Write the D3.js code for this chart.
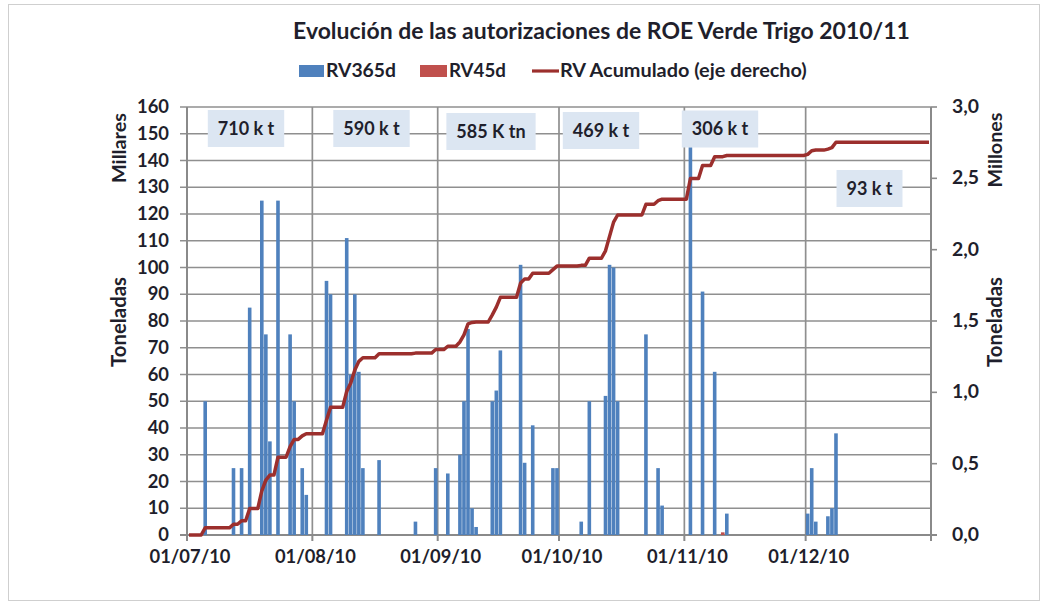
<!DOCTYPE html>
<html><head><meta charset="utf-8">
<script src="https://cdn.jsdelivr.net/npm/d3@7"></script>
<style>
body{margin:0;background:#fff}
svg{display:block}
text{font-family:Lato,"Open Sans",sans-serif;font-weight:700;fill:#1f1f2c}
</style>
</head><body>
<svg id="chart" width="1047" height="605"></svg>
<script>
// ---------- DATA ----------
const chartTitle = "Evolución de las autorizaciones de ROE Verde Trigo 2010/11";
const legendNames = ["RV365d", "RV45d", "RV Acumulado (eje derecho)"];

// Daily authorisations RV365d (toneladas, shown in thousands)
const rv365Dates = [
  "2010-07-05","2010-07-12","2010-07-14","2010-07-16","2010-07-19","2010-07-20","2010-07-21",
  "2010-07-23","2010-07-26","2010-07-27","2010-07-29","2010-07-30",
  "2010-08-04","2010-08-05","2010-08-09","2010-08-10","2010-08-11","2010-08-12","2010-08-13",
  "2010-08-17","2010-08-26","2010-08-31",
  "2010-09-03","2010-09-06","2010-09-07","2010-09-08","2010-09-09","2010-09-10","2010-09-14",
  "2010-09-15","2010-09-16","2010-09-21","2010-09-22","2010-09-24","2010-09-29","2010-09-30",
  "2010-10-06","2010-10-08","2010-10-12","2010-10-13","2010-10-14","2010-10-15","2010-10-22",
  "2010-10-25","2010-10-26",
  "2010-11-02","2010-11-05","2010-11-08","2010-11-11",
  "2010-12-01","2010-12-02","2010-12-03","2010-12-06","2010-12-07","2010-12-08"
];
const rv365Values = [
  50,25,25,85,125,75,35,
  125,75,50,25,15,
  95,90,111,60,90,61,25,
  28,5,25,
  23,30,50,77,10,3,50,
  54,69,101,27,41,25,25,
  5,50,52,101,100,50,75,
  25,11,
  145,91,61,8,
  8,25,5,7,10,38
];
// RV45d
const rv45Dates = ["2010-11-10"];
const rv45Values = [1];

// Axis ticks
const leftTickValues = [0,10,20,30,40,50,60,70,80,90,100,110,120,130,140,150,160];
const rightTickValues = [0,0.5,1.0,1.5,2.0,2.5,3.0];
const monthTicks = ["2010-07-01","2010-08-01","2010-09-01","2010-10-01","2010-11-01","2010-12-01"];
const axisEnd = "2011-01-01";

// Monthly total annotations
const annotationLabels = ["710 k t","590 k t","585 K tn","469 k t","306 k t","93 k t"];

// ---------- LAYOUT ----------
const plot = {left:187, right:931, top:107, bottom:535};
const annotationCenters = [[246,128.5],[371.5,128.5],[491,131.5],[601,130.5],[720,129],[869.5,188.5]];
const colBlue = "#4f81bd", colRed = "#c0504d", colLine = "#9c2f2d";
const gridCol = "#8f8f8f";

const parse = d3.utcParse("%Y-%m-%d");
const svg = d3.select("#chart");

svg.append("rect").attr("x",8.5).attr("y",4.5).attr("width",1031).attr("height",596)
  .attr("fill","#fff").attr("stroke","#cfcfcf");

const x = d3.scaleUtc().domain([parse(monthTicks[0]), parse(axisEnd)]).range([plot.left, plot.right]);
const yL = d3.scaleLinear().domain([0,160]).range([plot.bottom, plot.top]);
const yR = d3.scaleLinear().domain([0,3]).range([plot.bottom, plot.top]);
const dayW = x(d3.utcDay.offset(parse(monthTicks[0]),1)) - x(parse(monthTicks[0]));
const barW = 3.6;

// gridlines
const grid = svg.append("g");
grid.selectAll("line.h").data(leftTickValues.filter(v=>v>0)).join("line")
  .attr("x1",plot.left-7).attr("x2",plot.right)
  .attr("y1",d=>yL(d)).attr("y2",d=>yL(d))
  .attr("stroke",gridCol).attr("stroke-width",1.7);
grid.selectAll("line.v").data(monthTicks.slice(1).map(parse)).join("line")
  .attr("x1",d=>x(d)).attr("x2",d=>x(d))
  .attr("y1",plot.top).attr("y2",plot.bottom)
  .attr("stroke",gridCol).attr("stroke-width",1.7);

// axes lines
const axG = svg.append("g");
axG.append("line").attr("x1",plot.left).attr("x2",plot.left).attr("y1",plot.top).attr("y2",plot.bottom+6)
  .attr("stroke","#8a8a8a").attr("stroke-width",2);
axG.append("line").attr("x1",plot.right).attr("x2",plot.right).attr("y1",plot.top).attr("y2",plot.bottom+6)
  .attr("stroke","#8a8a8a").attr("stroke-width",2);
axG.append("line").attr("x1",plot.left-7).attr("x2",plot.right+6).attr("y1",plot.bottom).attr("y2",plot.bottom)
  .attr("stroke","#8a8a8a").attr("stroke-width",2);
axG.selectAll("line.xt").data(monthTicks.map(parse)).join("line")
  .attr("x1",d=>x(d)).attr("x2",d=>x(d)).attr("y1",plot.bottom).attr("y2",plot.bottom+6)
  .attr("stroke","#8a8a8a").attr("stroke-width",2);
axG.selectAll("line.rt").data(rightTickValues).join("line")
  .attr("x1",plot.right).attr("x2",plot.right+6).attr("y1",d=>yR(d)).attr("y2",d=>yR(d))
  .attr("stroke","#8a8a8a").attr("stroke-width",1.6);

// bars
function drawBars(dates, values, color){
  svg.append("g").selectAll("rect").data(dates.map((d,i)=>({d:parse(d),v:values[i]}))).join("rect")
    .attr("x",d=>x(d.d)+(dayW-barW)/2).attr("width",barW)
    .attr("y",d=>yL(d.v)).attr("height",d=>yL(0)-yL(d.v))
    .attr("fill",color);
}
drawBars(rv365Dates, rv365Values, colBlue);
drawBars(rv45Dates, rv45Values, colRed);

// annotation boxes
const ann = svg.append("g");
annotationLabels.forEach((lab,i)=>{
  const [cx,cy] = annotationCenters[i];
  const g = ann.append("g");
  const r = g.append("rect").attr("fill","#dce6f2");
  const t = g.append("text").attr("x",cx).attr("y",cy+6).attr("text-anchor","middle")
    .attr("font-size",18).text(lab);
  const w = t.node().getComputedTextLength();
  r.attr("x",cx-w/2-10).attr("width",w+20).attr("y",cy-18.5).attr("height",37);
});

// cumulative line (running total of daily RV365d + RV45d, in millions)
const days = d3.utcDays(parse(monthTicks[0]), parse(axisEnd));
const dailyMap = new Map();
rv365Dates.forEach((d,i)=>dailyMap.set(d,(dailyMap.get(d)||0)+rv365Values[i]));
rv45Dates.forEach((d,i)=>dailyMap.set(d,(dailyMap.get(d)||0)+rv45Values[i]));
const fmtKey = d3.utcFormat("%Y-%m-%d");
const cum = d3.cumsum(days, d=>(dailyMap.get(fmtKey(d))||0)/1000);
const linePts = days.map((d,i)=>[x(d)+dayW/2, yR(cum[i])]);
svg.append("path").attr("d",d3.line()(linePts)).attr("fill","none")
  .attr("stroke",colLine).attr("stroke-width",3.5).attr("stroke-linejoin","round");

// tick labels
function fitGroup(sel, sampleNode, target){
  const w = sampleNode.getComputedTextLength();
  const fs = parseFloat(d3.select(sampleNode).attr("font-size"));
  sel.attr("font-size", fs*target/w);
}
const lt = svg.append("g").selectAll("text").data(leftTickValues).join("text")
  .attr("x",169).attr("y",d=>yL(d)+6).attr("text-anchor","end").attr("font-size",18)
  .text(d=>d);
fitGroup(lt, lt.nodes()[16], 32);
const rt = svg.append("g").selectAll("text").data(rightTickValues).join("text")
  .attr("x",952).attr("y",d=>yR(d)+6).attr("text-anchor","start").attr("font-size",18)
  .text(d=>d3.format(".1f")(d).replace(".",","));
fitGroup(rt, rt.nodes()[6], 27);
const fmtX = d3.utcFormat("%d/%m/%y");
const xt = svg.append("g").selectAll("text").data(monthTicks.map(parse)).join("text")
  .attr("x",d=>x(d)+3).attr("y",563).attr("text-anchor","middle").attr("font-size",18)
  .text(d=>fmtX(d));
fitGroup(xt, xt.nodes()[0], 81);

// axis titles
function vtitle(txt, cx, cy, len){
  const t = svg.append("text").attr("transform",`translate(${cx},${cy}) rotate(-90)`)
    .attr("text-anchor","middle").attr("font-size",15).text(txt);
  fitGroup(t, t.node(), len);
}
vtitle("Millares", 126, 148, 70);
vtitle("Toneladas", 126, 322, 90);
vtitle("Millones", 1002, 150, 75);
vtitle("Toneladas", 1002, 322, 90);

// title
const tt = svg.append("text").attr("x",601.5).attr("y",39).attr("text-anchor","middle")
  .attr("font-size",21).text(chartTitle);
fitGroup(tt, tt.node(), 617);

// legend
const lg = svg.append("g");
lg.append("rect").attr("x",299).attr("y",65).attr("width",25).attr("height",12).attr("fill",colBlue);
lg.append("rect").attr("x",420).attr("y",65).attr("width",27).attr("height",12).attr("fill",colRed);
lg.append("line").attr("x1",532).attr("x2",559).attr("y1",71).attr("y2",71)
  .attr("stroke",colLine).attr("stroke-width",3.2);
const legX = [326,449,560], legWd = [70,57,247];
legendNames.forEach((n,i)=>{
  const t = lg.append("text").attr("x",legX[i]).attr("y",77).attr("font-size",17).text(n);
  fitGroup(t, t.node(), legWd[i]);
});
</script>
</body></html>
